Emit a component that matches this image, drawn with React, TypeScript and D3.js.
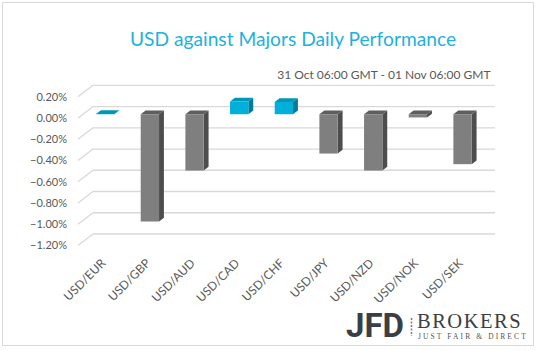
import React from "react";
import * as d3 from "d3";

const categories = ["USD/EUR", "USD/GBP", "USD/AUD", "USD/CAD", "USD/CHF", "USD/JPY", "USD/NZD", "USD/NOK", "USD/SEK"];
const values = [0.003, -1.01, -0.53, 0.12, 0.115, -0.37, -0.53, -0.03, -0.47];
const yTicks = [0.2, 0, -0.2, -0.4, -0.6, -0.8, -1.0, -1.2];

const W = 538, H = 351;
// oblique depth vector (back wall -> front plane)
const DX = -15, DY = 11.4;
const FRONT = 0.675, BACK = 0.35;

export default function App() {
  const x = d3.scaleBand<string>()
    .domain(categories)
    .range([93, 495])
    .paddingInner(0.59)
    .paddingOuter(0.295);
  const y = d3.scaleLinear().domain([-1.2, 0.2]).range([234, 85.3]);
  const fmt = (v: number) => d3.format(".2f")(v) + "%";

  const P = (px: number, py: number, d: number) => [px + DX * d, py + DY * d];
  const pts = (arr: number[][]) => arr.map(p => p.join(",")).join(" ");

  return (
    <svg width={W} height={H} style={{ position: "absolute", left: 0, top: 0, display: "block", background: "#fff" }}>
      <rect x={2.5} y={2.5} width={531} height={343} fill="#fff" stroke="#d9d9d9" strokeWidth={1} />

      <text x={293} y={46} textAnchor="middle" fontFamily="Lato" fontSize={19.2} fill="#1eb1dd">
        USD against Majors Daily Performance
      </text>
      <text x={490.5} y={79} textAnchor="end" fontFamily="Lato" fontSize={12} fill="#595959">
        31 Oct 06:00 GMT - 01 Nov 06:00 GMT
      </text>

      {/* gridlines: back wall + side wall diagonals */}
      {yTicks.map(t => (
        <g key={t}>
          <line x1={93} x2={495} y1={y(t)} y2={y(t)} stroke="#d9d9d9" strokeWidth={1.3} />
          <line x1={93} y1={y(t)} x2={93 + DX} y2={y(t) + DY} stroke="#d9d9d9" strokeWidth={1.3} />
          <text x={67} y={y(t) + DY} dy="0.35em" textAnchor="end" fontFamily="Lato" fontSize={11} fill="#595959">
            {fmt(t)}
          </text>
        </g>
      ))}

      {/* 3D bars */}
      {categories.map((c, i) => {
        const v = values[i];
        const bx = x(c)!;
        const bw = x.bandwidth();
        const top = Math.min(y(0), y(v));
        const bot = Math.max(y(0), y(v));
        const pos = v > 0;
        const cFront = pos ? "#00b0da" : "#7f7f7f";
        const cTop = pos ? "#0096b8" : "#5e5e5e";
        const cSide = pos ? "#007c98" : "#4d4d4d";
        const ftl = P(bx, top, FRONT), ftr = P(bx + bw, top, FRONT);
        const fbr = P(bx + bw, bot, FRONT);
        const btl = P(bx, top, BACK), btr = P(bx + bw, top, BACK), bbr = P(bx + bw, bot, BACK);
        return (
          <g key={c}>
            <polygon points={pts([ftr, btr, bbr, fbr])} fill={cSide} />
            <polygon points={pts([ftl, ftr, btr, btl])} fill={cTop} />
            <rect x={ftl[0]} y={ftl[1]} width={bw} height={bot - top} fill={cFront} />
          </g>
        );
      })}

      {/* category labels */}
      {categories.map(c => {
        const cx = x(c)! + x.bandwidth() / 2 + DX + 6;
        return (
          <text key={c} transform={`translate(${cx},264) rotate(-45)`} textAnchor="end"
            fontFamily="Lato" fontSize={12} fill="#595959">
            {c}
          </text>
        );
      })}

      {/* logo */}
      <text x={346} y={336.5} fontFamily="Roboto" fontWeight={700} fontSize={33} fill="#3b3e44">JFD</text>
      <line x1={411.5} x2={411.5} y1={318} y2={336} stroke="#7a7a7a" strokeWidth={1.5} strokeDasharray="2,1.5" />
      <text x={417} y={327.5} fontFamily="Liberation Serif" fontSize={20.5} letterSpacing={1.5} fill="#3b3e44">BROKERS</text>
      <text x={418} y={339} fontFamily="Liberation Serif" fontSize={7.5} letterSpacing={2.1} fill="#555">JUST FAIR &amp; DIRECT</text>
    </svg>
  );
}
